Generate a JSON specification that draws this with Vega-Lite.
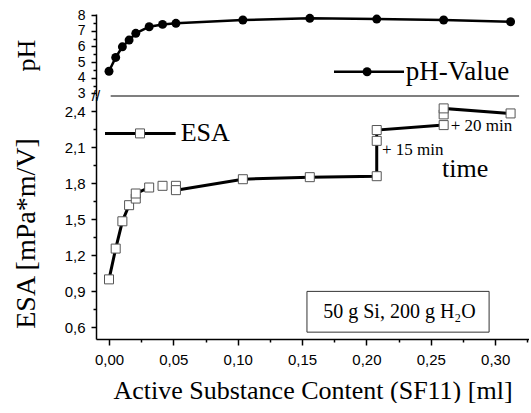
{
  "$schema": "https://vega.github.io/schema/vega-lite/v6.json",
  "padding": {"left": 12, "top": 8, "right": 0, "bottom": 0},
  "bounds": "flush",
  "spacing": 0,
  "config": {
    "view": {"stroke": null},
    "axis": {"domainColor": "black", "domainWidth": 1.5, "tickColor": "black", "tickWidth": 1.5, "labelFont": "Liberation Sans", "labelFontSize": 15, "labelColor": "black", "titleFont": "Liberation Serif", "titleFontSize": 26, "titleFontWeight": "normal", "titleColor": "black", "grid": false, "labelFlush": false, "labelOverlap": false},
    "text": {"font": "Liberation Serif", "color": "black"}
  },
  "datasets": {
    "ph": [
      {"x": 0, "ph": 4.41}, {"x": 0.0052, "ph": 5.29}, {"x": 0.0104, "ph": 5.97}, {"x": 0.0156, "ph": 6.4},
      {"x": 0.0208, "ph": 6.83}, {"x": 0.0312, "ph": 7.25}, {"x": 0.0416, "ph": 7.4}, {"x": 0.052, "ph": 7.47},
      {"x": 0.104, "ph": 7.68}, {"x": 0.156, "ph": 7.79}, {"x": 0.208, "ph": 7.74}, {"x": 0.26, "ph": 7.68}, {"x": 0.312, "ph": 7.57}
    ],
    "esa": [
      {"i": 1, "seg": "a", "x": 0, "esa": 1.0},
      {"i": 2, "seg": "a", "x": 0.0052, "esa": 1.256},
      {"i": 3, "seg": "a", "x": 0.0104, "esa": 1.483},
      {"i": 4, "seg": "a", "x": 0.0156, "esa": 1.617},
      {"i": 5, "seg": "a", "x": 0.0208, "esa": 1.672},
      {"i": 6, "seg": "a", "x": 0.0208, "esa": 1.714},
      {"i": 7, "seg": "a", "x": 0.0312, "esa": 1.764},
      {"i": 8, "seg": "p8", "x": 0.0416, "esa": 1.778},
      {"i": 9, "seg": "p9", "x": 0.052, "esa": 1.778},
      {"i": 10, "seg": "b", "x": 0.052, "esa": 1.742},
      {"i": 11, "seg": "b", "x": 0.104, "esa": 1.833},
      {"i": 12, "seg": "b", "x": 0.156, "esa": 1.85},
      {"i": 13, "seg": "b", "x": 0.208, "esa": 1.858},
      {"i": 14, "seg": "b", "x": 0.208, "esa": 2.152},
      {"i": 15, "seg": "b", "x": 0.208, "esa": 2.242},
      {"i": 16, "seg": "b", "x": 0.26, "esa": 2.283},
      {"i": 17, "seg": "c", "x": 0.26, "esa": 2.372},
      {"i": 18, "seg": "c", "x": 0.26, "esa": 2.422},
      {"i": 19, "seg": "c", "x": 0.312, "esa": 2.38}
    ]
  },
  "vconcat": [
    {
      "width": 433,
      "height": 82,
      "layer": [
        {
          "data": {"name": "ph"},
          "mark": {"type": "line", "color": "black", "strokeWidth": 2.5},
          "encoding": {
            "x": {"field": "x", "type": "quantitative", "scale": {"domain": [-0.0101, 0.3263], "nice": false, "zero": false}, "axis": null},
            "y": {"field": "ph", "type": "quantitative", "scale": {"domain": [2.83, 8.064], "nice": false, "zero": false},
              "axis": {"title": "pH", "tickCount": 100, "values": [3, 3.5, 4, 4.5, 5, 5.5, 6, 6.5, 7, 7.5, 8],
                "labelExpr": "datum.value % 1 == 0 ? format(datum.value, 'd') : ''",
                "tickSize": {"condition": {"test": "datum.value % 1 == 0", "value": 5}, "value": 3},
                "labelOverlap": false, "labelBound": false,
                "labelFontSize": 14, "labelPadding": 6, "minExtent": 35, "maxExtent": 35, "titlePadding": 22}}
          }
        },
        {
          "data": {"name": "ph"},
          "mark": {"type": "circle", "color": "black", "size": 80, "opacity": 1},
          "encoding": {
            "x": {"field": "x", "type": "quantitative"},
            "y": {"field": "ph", "type": "quantitative"}
          }
        },
        {
          "data": {"values": [{}]},
          "mark": {"type": "rule", "color": "black", "strokeWidth": 1.2},
          "encoding": {"x": {"datum": 0.0013}, "x2": {"datum": 0.3186}, "y": {"datum": 2.83}}
        },
        {
          "data": {"values": [{}]},
          "mark": {"type": "text", "text": "//", "font": "Liberation Sans", "fontSize": 15, "align": "center", "baseline": "middle"},
          "encoding": {"x": {"datum": -0.0101}, "y": {"datum": 2.83}}
        },
        {
          "data": {"values": [{}]},
          "mark": {"type": "rule", "color": "black", "strokeWidth": 2.5},
          "encoding": {"x": {"datum": 0.1748}, "x2": {"datum": 0.2292}, "y": {"datum": 4.38}}
        },
        {
          "data": {"values": [{}]},
          "mark": {"type": "circle", "color": "black", "size": 80, "opacity": 1},
          "encoding": {"x": {"datum": 0.2005}, "y": {"datum": 4.38}}
        },
        {
          "data": {"values": [{}]},
          "mark": {"type": "text", "text": "pH-Value", "fontSize": 27, "align": "left", "baseline": "middle"},
          "encoding": {"x": {"datum": 0.2305}, "y": {"datum": 4.38}}
        }
      ]
    },
    {
      "width": 433,
      "height": 243,
      "layer": [
        {
          "data": {"name": "esa"},
          "mark": {"type": "line", "color": "black", "strokeWidth": 3},
          "encoding": {
            "x": {"field": "x", "type": "quantitative", "scale": {"domain": [-0.0101, 0.3263], "nice": false, "zero": false},
              "axis": {"title": "Active Substance Content (SF11) [ml]", "tickCount": 100,
                "values": [0, 0.025, 0.05, 0.075, 0.1, 0.125, 0.15, 0.175, 0.2, 0.225, 0.25, 0.275, 0.3, 0.325],
                "labelExpr": "abs(datum.value*20 - round(datum.value*20)) < 0.01 ? replace(format(datum.value, '.2f'), '.', ',') : ''",
                "tickSize": {"condition": {"test": "abs(datum.value*20 - round(datum.value*20)) < 0.01", "value": 6}, "value": 3},
                "labelOverlap": false, "labelPadding": 7, "titlePadding": 10}},
            "y": {"field": "esa", "type": "quantitative", "scale": {"domain": [0.504, 2.525], "nice": false, "zero": false},
              "axis": {"title": "ESA [mPa*m/V]", "titleFontSize": 28, "titleY": 137, "tickCount": 100,
                "values": [0.6, 0.75, 0.9, 1.05, 1.2, 1.35, 1.5, 1.65, 1.8, 1.95, 2.1, 2.25, 2.4],
                "labelExpr": "abs(datum.value/0.3 - round(datum.value/0.3)) < 0.01 ? replace(format(datum.value, '.1f'), '.', ',') : ''",
                "tickSize": {"condition": {"test": "abs(datum.value/0.3 - round(datum.value/0.3)) < 0.01", "value": 5}, "value": 3},
                "labelOverlap": false, "labelPadding": 6, "minExtent": 35, "maxExtent": 35, "titlePadding": 21}},
            "detail": {"field": "seg", "type": "nominal"},
            "order": {"field": "i", "type": "quantitative"}
          }
        },
        {
          "data": {"name": "esa"},
          "mark": {"type": "square", "size": 81, "filled": true, "fill": "white", "stroke": "#555555", "strokeWidth": 1, "opacity": 1},
          "encoding": {
            "x": {"field": "x", "type": "quantitative"},
            "y": {"field": "esa", "type": "quantitative"}
          }
        },
        {
          "data": {"values": [{}]},
          "mark": {"type": "rule", "color": "black", "strokeWidth": 3},
          "encoding": {"x": {"datum": -0.0031}, "x2": {"datum": 0.0518}, "y": {"datum": 2.214}}
        },
        {
          "data": {"values": [{}]},
          "mark": {"type": "square", "size": 81, "filled": true, "fill": "white", "stroke": "#555555", "strokeWidth": 1, "opacity": 1},
          "encoding": {"x": {"datum": 0.0241}, "y": {"datum": 2.214}}
        },
        {
          "data": {"values": [{}]},
          "mark": {"type": "text", "text": "ESA", "fontSize": 26, "align": "left", "baseline": "middle"},
          "encoding": {"x": {"datum": 0.0557}, "y": {"datum": 2.214}}
        },
        {
          "data": {"values": [{}]},
          "mark": {"type": "text", "text": "+ 15 min", "fontSize": 17, "align": "left", "baseline": "alphabetic"},
          "encoding": {"x": {"datum": 0.2121}, "y": {"datum": 2.033}}
        },
        {
          "data": {"values": [{}]},
          "mark": {"type": "text", "text": "+ 20 min", "fontSize": 17, "align": "left", "baseline": "alphabetic"},
          "encoding": {"x": {"datum": 0.2655}, "y": {"datum": 2.233}}
        },
        {
          "data": {"values": [{}]},
          "mark": {"type": "text", "text": "time", "fontSize": 26, "align": "left", "baseline": "alphabetic"},
          "encoding": {"x": {"datum": 0.2587}, "y": {"datum": 1.85}}
        },
        {
          "data": {"values": [{}]},
          "mark": {"type": "rect", "fill": "white", "stroke": "#333333", "strokeWidth": 1},
          "encoding": {"x": {"datum": 0.1538}, "x2": {"datum": 0.2953}, "y": {"datum": 0.561}, "y2": {"datum": 0.9}}
        },
        {
          "data": {"values": [{}]},
          "mark": {"type": "text", "text": "50 g Si, 200 g H₂O", "fontSize": 20, "align": "center", "baseline": "alphabetic"},
          "encoding": {"x": {"datum": 0.2257}, "y": {"datum": 0.675}}
        }
      ]
    }
  ]
}
